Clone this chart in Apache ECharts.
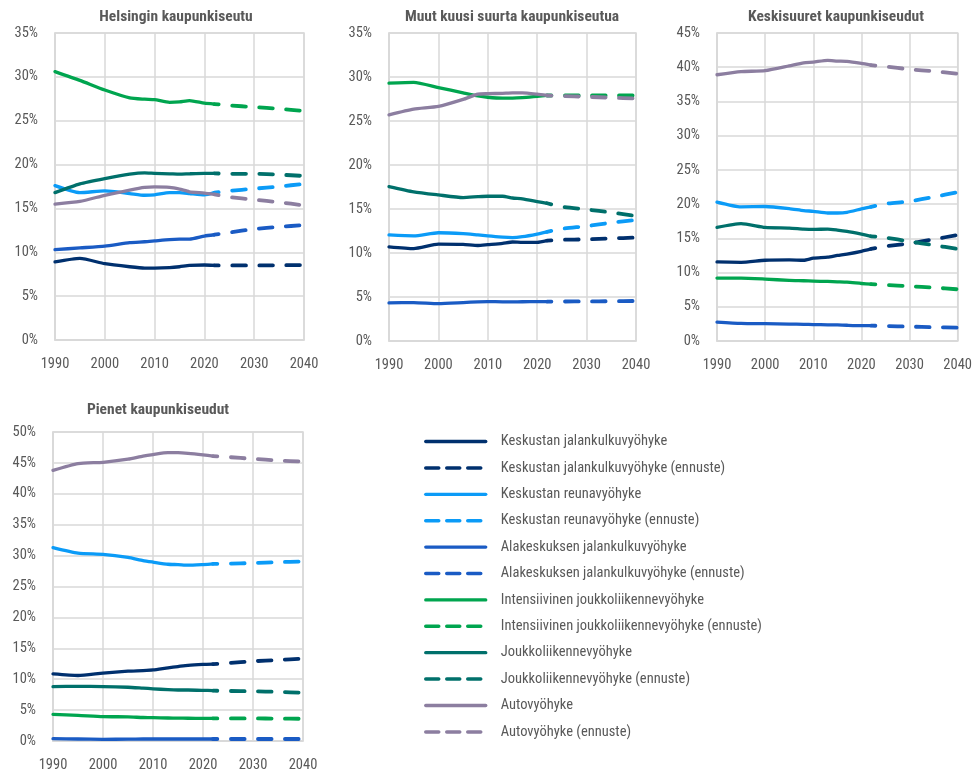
<!DOCTYPE html>
<html>
<head>
<meta charset="utf-8">
<script src="https://cdn.jsdelivr.net/npm/echarts@6/dist/echarts.min.js"></script>
<style>
html,body{margin:0;padding:0;background:#fff;}
#c{width:975px;height:775px;}
</style>
</head>
<body>
<div id="c"></div>
<script>
// ---- Data ----
const histYears = [1990, 1995, 2000, 2005, 2008, 2010, 2013, 2015, 2017, 2020, 2022];
const fcYears = [2022, 2025, 2030, 2035, 2040];

const zoneNames = [
  'Keskustan jalankulkuvyöhyke',
  'Keskustan reunavyöhyke',
  'Alakeskuksen jalankulkuvyöhyke',
  'Intensiivinen joukkoliikennevyöhyke',
  'Joukkoliikennevyöhyke',
  'Autovyöhyke'
];
const forecastSuffix = ' (ennuste)';
const zoneColors = ['#00306E', '#0B9BF7', '#1A5BC4', '#00A54F', '#00706B', '#8C7EA0'];

const panelTitles = ['Helsingin kaupunkiseutu', 'Muut kuusi suurta kaupunkiseutua', 'Keskisuuret kaupunkiseudut', 'Pienet kaupunkiseudut'];
const panelYMax = [35, 35, 45, 50];

// Helsingin kaupunkiseutu
const helHist = [
  [8.9, 9.3, 8.7, 8.35, 8.2, 8.2, 8.25, 8.35, 8.5, 8.55, 8.5],
  [17.6, 16.8, 17.0, 16.7, 16.5, 16.55, 16.8, 16.8, 16.7, 16.55, 16.8],
  [10.3, 10.5, 10.7, 11.1, 11.2, 11.3, 11.45, 11.5, 11.5, 11.85, 12.0],
  [30.6, 29.6, 28.5, 27.6, 27.45, 27.4, 27.1, 27.15, 27.3, 27.0, 26.9],
  [16.8, 17.8, 18.4, 18.9, 19.05, 19.0, 18.95, 18.9, 18.95, 19.0, 19.0],
  [15.5, 15.8, 16.5, 17.1, 17.4, 17.45, 17.4, 17.2, 16.9, 16.75, 16.6]
];
const helFc = [
  [8.5, 8.5, 8.5, 8.52, 8.55],
  [16.8, 17.0, 17.25, 17.5, 17.8],
  [12.0, 12.25, 12.65, 12.9, 13.1],
  [26.9, 26.75, 26.55, 26.35, 26.1],
  [19.0, 18.95, 18.95, 18.85, 18.7],
  [16.6, 16.3, 16.0, 15.7, 15.35]
];
// Muut kuusi suurta kaupunkiseutua
const suuretHist = [
  [10.7, 10.5, 11.0, 10.97, 10.85, 10.95, 11.1, 11.25, 11.2, 11.2, 11.4],
  [12.05, 11.95, 12.3, 12.2, 12.05, 11.95, 11.8, 11.75, 11.85, 12.15, 12.4],
  [4.33, 4.37, 4.25, 4.37, 4.45, 4.48, 4.45, 4.45, 4.46, 4.47, 4.48],
  [29.3, 29.4, 28.8, 28.2, 27.85, 27.7, 27.6, 27.6, 27.65, 27.8, 27.9],
  [17.55, 16.95, 16.6, 16.3, 16.4, 16.45, 16.45, 16.25, 16.15, 15.85, 15.65],
  [25.7, 26.35, 26.65, 27.45, 28.05, 28.1, 28.15, 28.2, 28.2, 28.05, 27.9]
];
const suuretFc = [
  [11.4, 11.5, 11.55, 11.65, 11.75],
  [12.4, 12.75, 13.05, 13.45, 13.75],
  [4.48, 4.49, 4.5, 4.52, 4.55],
  [27.9, 27.9, 27.9, 27.9, 27.9],
  [15.65, 15.25, 14.95, 14.6, 14.2],
  [27.9, 27.85, 27.75, 27.65, 27.55]
];
// Keskisuuret kaupunkiseudut
const keskiHist = [
  [11.55, 11.5, 11.8, 11.85, 11.8, 12.1, 12.25, 12.5, 12.7, 13.1, 13.45],
  [20.3, 19.6, 19.65, 19.35, 19.05, 18.95, 18.7, 18.7, 18.8, 19.3, 19.6],
  [2.77, 2.58, 2.53, 2.48, 2.44, 2.4, 2.37, 2.35, 2.3, 2.25, 2.25],
  [9.2, 9.2, 9.05, 8.85, 8.8, 8.75, 8.7, 8.65, 8.6, 8.4, 8.3],
  [16.6, 17.15, 16.6, 16.5, 16.35, 16.3, 16.35, 16.2, 16.0, 15.6, 15.3],
  [38.9, 39.35, 39.5, 40.2, 40.65, 40.75, 41.0, 40.9, 40.85, 40.55, 40.3]
];
const keskiFc = [
  [13.45, 13.85, 14.25, 14.85, 15.5],
  [19.6, 20.05, 20.4, 21.05, 21.75],
  [2.25, 2.18, 2.1, 2.02, 1.95],
  [8.3, 8.2, 8.0, 7.8, 7.55],
  [15.3, 15.1, 14.55, 14.0, 13.45],
  [40.3, 40.1, 39.7, 39.4, 39.05]
];
// Pienet kaupunkiseudut
const pienetHist = [
  [10.85, 10.6, 11.0, 11.3, 11.4, 11.5, 11.85, 12.05, 12.25, 12.4, 12.45],
  [31.3, 30.4, 30.2, 29.7, 29.2, 28.95, 28.6, 28.55, 28.45, 28.55, 28.65],
  [0.38, 0.32, 0.27, 0.3, 0.32, 0.32, 0.32, 0.32, 0.32, 0.32, 0.32],
  [4.3, 4.15, 3.95, 3.9, 3.8, 3.77, 3.72, 3.7, 3.68, 3.65, 3.65],
  [8.8, 8.85, 8.8, 8.7, 8.55, 8.45, 8.3, 8.25, 8.25, 8.2, 8.15],
  [43.8, 44.9, 45.1, 45.6, 46.1, 46.35, 46.65, 46.65, 46.55, 46.3, 46.1]
];
const pienetFc = [
  [12.45, 12.6, 12.9, 13.1, 13.35],
  [28.65, 28.7, 28.8, 28.95, 29.05],
  [0.32, 0.32, 0.32, 0.32, 0.32],
  [3.65, 3.65, 3.65, 3.62, 3.6],
  [8.15, 8.1, 8.05, 7.95, 7.8],
  [46.1, 45.95, 45.65, 45.4, 45.2]
];

const panelHist = [helHist, suuretHist, keskiHist, pienetHist];
const panelFc = [helFc, suuretFc, keskiFc, pienetFc];

// ---- Layout / style ----
const FONT = "'Roboto Condensed', 'Roboto', sans-serif";
const FS = 14.5;
const TXT = '#595959';
const GRIDC = '#d9d9d9';
const grids = [
  {left: 55, top: 33, width: 249, height: 307},
  {left: 389, top: 33, width: 247, height: 308},
  {left: 717, top: 33, width: 241, height: 308},
  {left: 53, top: 432, width: 250, height: 309}
];
const titlePos = [
  {x: 176, y: 9},
  {x: 512, y: 9},
  {x: 836, y: 9},
  {x: 158, y: 402}
];

const option = {
  animation: false,
  backgroundColor: '#fff',
  textStyle: {fontFamily: FONT},
  title: panelTitles.map((t, i) => ({
    text: t, left: titlePos[i].x, top: titlePos[i].y, textAlign: 'center', padding: 0,
    textStyle: {fontFamily: FONT, fontSize: 15.5, fontWeight: 'bold', color: TXT}
  })),
  grid: grids.map(g => Object.assign({show: true, borderColor: GRIDC, borderWidth: 1.5, containLabel: false}, g)),
  xAxis: grids.map((g, i) => ({
    type: 'value', gridIndex: i, min: 1990, max: 2040, interval: 10,
    axisLine: {show: true, lineStyle: {color: GRIDC, width: 1.5}},
    axisTick: {show: false},
    splitLine: {show: true, lineStyle: {color: GRIDC, width: 1.5}},
    axisLabel: {color: TXT, fontFamily: FONT, fontSize: FS, margin: 17, formatter: v => String(v)}
  })),
  yAxis: grids.map((g, i) => ({
    type: 'value', gridIndex: i, min: 0, max: panelYMax[i], interval: 5,
    axisLine: {show: true, lineStyle: {color: GRIDC, width: 1.5}},
    axisTick: {show: false},
    splitLine: {show: true, lineStyle: {color: GRIDC, width: 1.5}},
    axisLabel: {color: TXT, fontFamily: FONT, fontSize: FS, margin: 17, formatter: '{value}%'}
  })),
  legend: {
    orient: 'vertical', left: 424, top: 434, padding: 0,
    itemWidth: 60, itemHeight: 14, itemGap: 11.4,
    textStyle: {fontFamily: FONT, fontSize: FS, color: TXT, padding: [0, 0, 0, 10], lineHeight: 14},
    data: []
  },
  series: []
};

zoneNames.forEach((n, k) => {
  option.legend.data.push({name: n, itemStyle: {opacity: 0},
    lineStyle: {color: zoneColors[k], width: 3.3, type: 'solid', cap: 'round'}});
  option.legend.data.push({name: n + forecastSuffix, itemStyle: {opacity: 0},
    lineStyle: {color: zoneColors[k], width: 3.5, type: [13, 8], cap: 'round', dashOffset: 0}});
});

for (let p = 0; p < 4; p++) {
  for (let k = 0; k < zoneNames.length; k++) {
    option.series.push({
      type: 'line', name: zoneNames[k], xAxisIndex: p, yAxisIndex: p,
      data: histYears.map((y, j) => [y, panelHist[p][k][j]]),
      showSymbol: false, symbol: 'none', smooth: 0.2,
      color: zoneColors[k],
      lineStyle: {color: zoneColors[k], width: 3.3, cap: 'round', join: 'round'}
    });
    option.series.push({
      type: 'line', name: zoneNames[k] + forecastSuffix, xAxisIndex: p, yAxisIndex: p,
      data: fcYears.map((y, j) => [y, panelFc[p][k][j]]),
      showSymbol: false, symbol: 'none', smooth: 0.2,
      color: zoneColors[k],
      lineStyle: {color: zoneColors[k], width: 3.8, type: [13.5, 13.5], dashOffset: 9, cap: 'round', join: 'round'}
    });
  }
}

const chart = echarts.init(document.getElementById('c'), null, {renderer: 'canvas'});
chart.setOption(option);
</script>
</body>
</html>
